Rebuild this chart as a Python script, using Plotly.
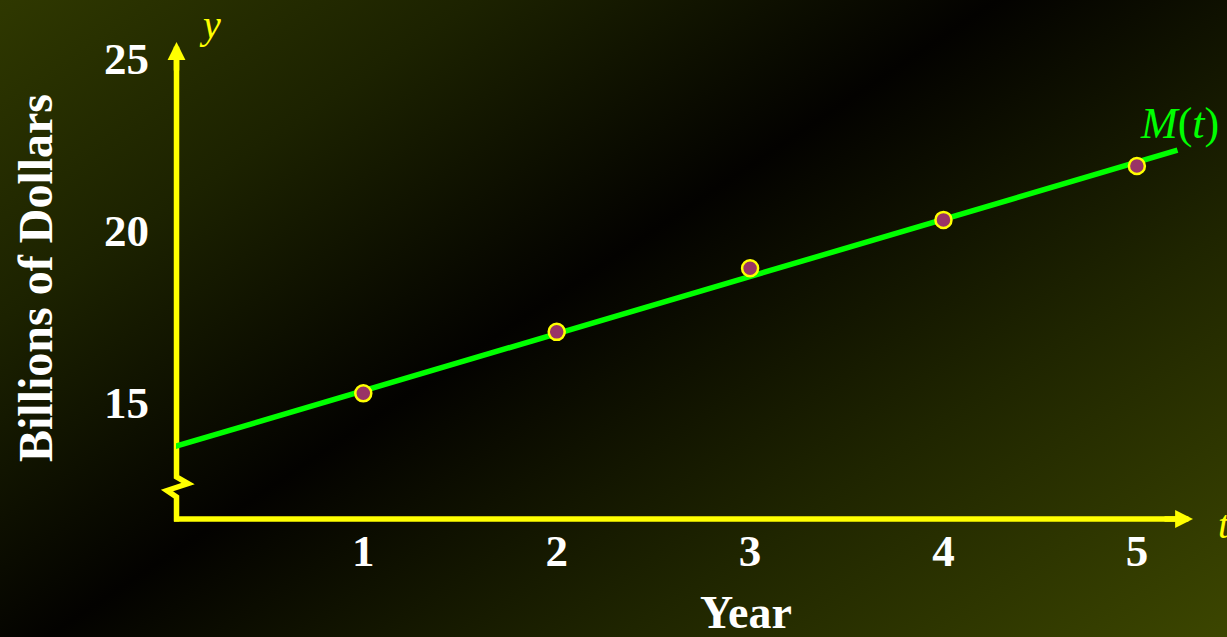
import base64
import plotly.graph_objects as go

# Yearly amounts, billions of dollars
years = [1, 2, 3, 4, 5]
billions = [15.25, 17.04, 18.89, 20.30, 21.87]

# Trend line M(t): end points
trend_t = [0, 5.21]
trend_y = [13.66, 22.33]

x_tick_vals = [1, 2, 3, 4, 5]
x_tick_text = ["1", "2", "3", "4", "5"]
y_tick_vals = [15, 20, 25]
y_tick_text = ["15", "20", "25"]

W, H = 1227, 637
ML, MB = 176, 119
PW, PH = W - ML, H - MB

SERIF = "Liberation Serif, Times New Roman, serif"
YELLOW = "#ffff00"
GREEN = "#00ff00"


def px(x):
    """Figure pixel column -> paper x."""
    return (x - ML) / PW


def py(y):
    """Figure pixel row -> paper y."""
    return (PH - y) / PH


# Slide-style diagonal background: olive -> black band -> olive
bg_svg = f"""<svg xmlns='http://www.w3.org/2000/svg' width='{W}' height='{H}' viewBox='0 0 {W} {H}' preserveAspectRatio='none'>
<defs><linearGradient id='g' gradientUnits='userSpaceOnUse' x1='-9' y1='6' x2='666' y2='1013'>
<stop offset='0' stop-color='#2f3800'/>
<stop offset='0.22' stop-color='#1c2200'/>
<stop offset='0.458' stop-color='#030200'/>
<stop offset='0.72' stop-color='#1f2500'/>
<stop offset='1' stop-color='#3c4600'/>
</linearGradient></defs>
<rect width='{W}' height='{H}' fill='url(#g)'/></svg>"""
bg_uri = "data:image/svg+xml;base64," + base64.b64encode(bg_svg.encode()).decode()

fig = go.Figure()

fig.add_trace(go.Scatter(
    x=trend_t, y=trend_y, mode="lines",
    line=dict(color=GREEN, width=5.5),
    hoverinfo="skip", showlegend=False,
))
fig.add_trace(go.Scatter(
    x=years, y=billions, mode="markers",
    marker=dict(size=16, color="#993366", line=dict(color=YELLOW, width=2.5)),
    showlegend=False, cliponaxis=False,
))

# Vertical axis with a break mark near the bottom
zig = [(176.5, 521.5), (176.5, 497), (167, 490.5), (188, 483.5), (176.5, 477), (176.5, 50)]
y_axis_path = "M " + " L ".join(f"{px(a):.5f},{py(b):.5f}" for a, b in zig)

shapes = [
    dict(type="path", path=y_axis_path, xref="paper", yref="paper",
         line=dict(color=YELLOW, width=5.5), layer="below"),
    dict(type="line", xref="paper", yref="paper",
         x0=px(174), x1=px(1182), y0=py(519), y1=py(519),
         line=dict(color=YELLOW, width=5.5), layer="below"),
]


def label(x, y, text, size, color, **kw):
    d = dict(x=px(x), y=py(y), xref="paper", yref="paper", text=text,
             showarrow=False, xanchor="center", yanchor="middle",
             font=dict(family=SERIF, size=size, color=color))
    d.update(kw)
    return d


annotations = [
    # arrow heads
    dict(x=px(1193), y=py(519), xref="paper", yref="paper", ax=-30, ay=0,
         text="", showarrow=True, arrowhead=2, arrowsize=0.65, arrowwidth=5.5,
         arrowcolor=YELLOW, standoff=0),
    dict(x=px(176.5), y=py(42), xref="paper", yref="paper", ax=0, ay=30,
         text="", showarrow=True, arrowhead=2, arrowsize=0.65, arrowwidth=5.5,
         arrowcolor=YELLOW, standoff=0),
    # axis names
    label(210, 24, "<i>y</i>", 40, YELLOW),
    label(1216, 524, "<i>t</i>", 40, YELLOW, xanchor="left"),
    label(1138, 124, "<i>M</i>(<i>t</i>)", 44, GREEN, xanchor="left"),
    label(35, 278, "<b>Billions of Dollars</b>", 48, "white", textangle=-90),
    label(746, 612, "<b>Year</b>", 46, "white"),
]

fig.update_layout(
    width=W, height=H,
    margin=dict(l=ML, r=0, t=0, b=MB, pad=0),
    paper_bgcolor="#000000",
    plot_bgcolor="rgba(0,0,0,0)",
    images=[dict(source=bg_uri, xref="paper", yref="paper",
                 x=px(0), y=py(0), sizex=W / PW, sizey=H / PH,
                 xanchor="left", yanchor="top", sizing="stretch", layer="below")],
    shapes=shapes,
    annotations=annotations,
    xaxis=dict(range=[0.0315, 5.466], showgrid=False, zeroline=False, showline=False,
               tickvals=x_tick_vals, ticktext=x_tick_text, ticks="",
               ticklabelstandoff=2,
               tickfont=dict(family=SERIF, size=45, color="white", weight="bold")),
    yaxis=dict(range=[11.621, 26.701], showgrid=False, zeroline=False, showline=False,
               tickvals=y_tick_vals, ticktext=y_tick_text, ticks="",
               ticklabelstandoff=26,
               tickfont=dict(family=SERIF, size=45, color="white", weight="bold")),
    hovermode=False,
)

fig.write_html("out.html")
